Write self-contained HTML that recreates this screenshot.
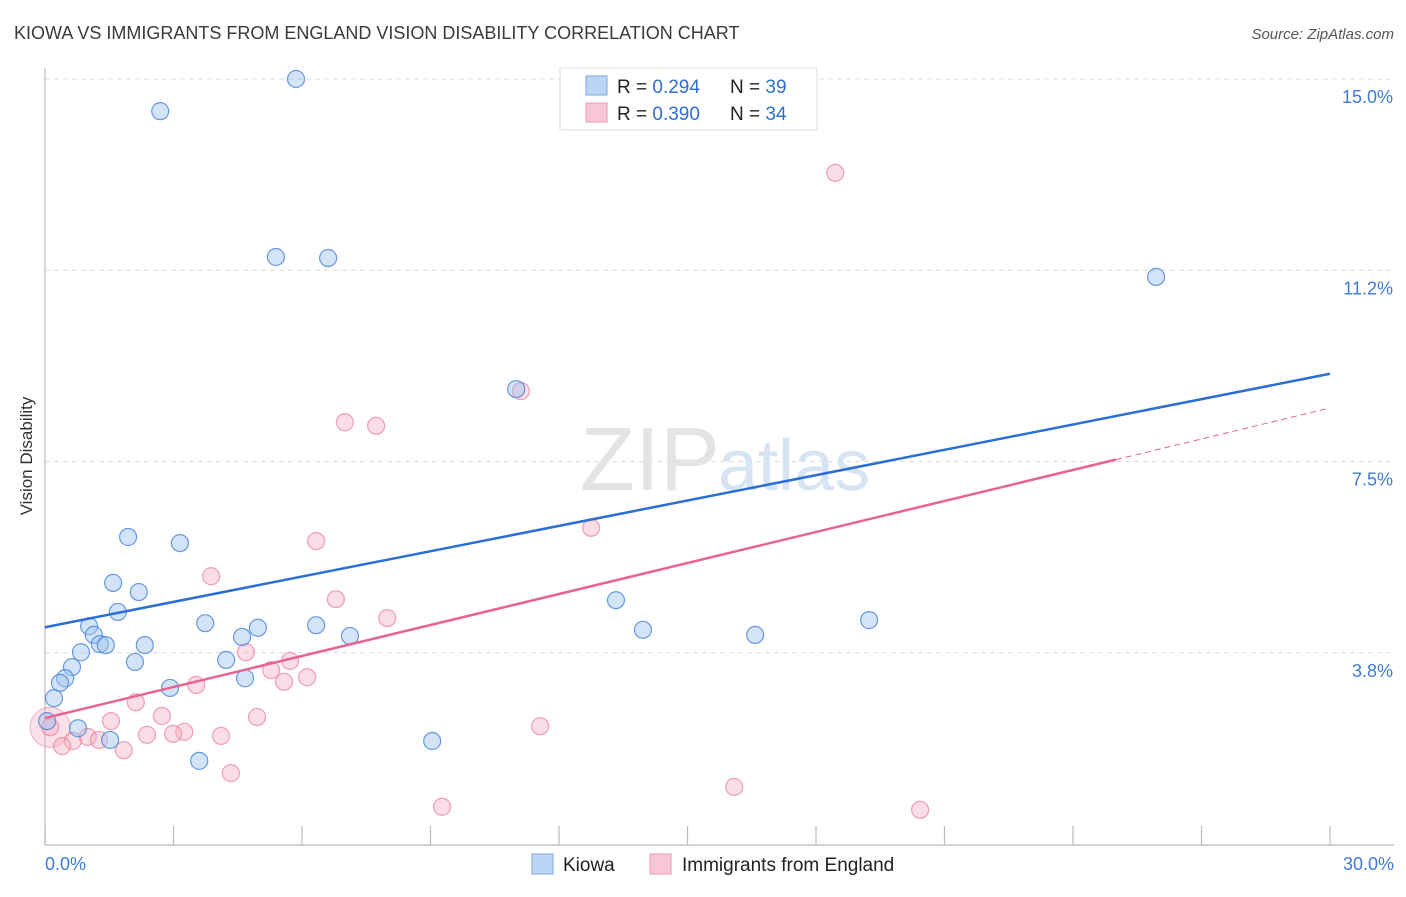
<!DOCTYPE html>
<html><head><meta charset="utf-8"><style>
body{margin:0;background:#fff;font-family:"Liberation Sans",sans-serif;}
svg text{font-family:"Liberation Sans",sans-serif;}
</style></head><body>
<svg id="chart" width="1406" height="892" viewBox="0 0 1406 892">
<text x="14" y="39" font-size="18" fill="#3a3a3a">KIOWA VS IMMIGRANTS FROM ENGLAND VISION DISABILITY CORRELATION CHART</text>
<text x="1394" y="39" font-size="15" fill="#555" font-style="italic" text-anchor="end">Source: ZipAtlas.com</text>
<text x="32" y="456" font-size="17" fill="#333" text-anchor="middle" transform="rotate(-90 32 456)">Vision Disability</text>
<g id="grid"></g>
<g id="yticks"></g>
<g id="xticks"></g>
<text x="720" y="490" font-size="90" fill="#e4e4e4" text-anchor="end" font-family="Liberation Serif">ZIP</text>
<text x="718" y="490" font-size="72" fill="#d6e4f4">atlas</text>
<line x1="45" y1="68" x2="45" y2="845" stroke="#bbb" stroke-width="1.2"/>
<line x1="45" y1="845" x2="1394" y2="845" stroke="#bbb" stroke-width="1.2"/>
<g id="points"></g>
<g id="trends"></g>
<g>
<rect x="560" y="68" width="257" height="62" fill="#fff" stroke="#ddd"/>
<rect x="586" y="76" width="21" height="19" fill="#bcd5f5" stroke="#7aa6e0"/>
<rect x="586" y="103" width="21" height="19" fill="#f9c8d6" stroke="#ec9ab2"/>
<text x="617" y="93" font-size="19" fill="#222">R = <tspan fill="#2f6fd0">0.294</tspan></text>
<text x="730" y="93" font-size="19" fill="#222">N = <tspan fill="#2f6fd0">39</tspan></text>
<text x="617" y="120" font-size="19" fill="#222">R = <tspan fill="#2f6fd0">0.390</tspan></text>
<text x="730" y="120" font-size="19" fill="#222">N = <tspan fill="#2f6fd0">34</tspan></text>
</g>
<text x="45" y="870" font-size="18" fill="#3d7bd6">0.0%</text>
<text x="1394" y="870" font-size="18" fill="#3d7bd6" text-anchor="end">30.0%</text>
<g>
<rect x="532" y="854" width="21" height="20" fill="#bcd5f5" stroke="#7aa6e0"/>
<text x="563" y="871" font-size="19" fill="#222">Kiowa</text>
<rect x="650" y="854" width="21" height="20" fill="#f9c8d6" stroke="#ec9ab2"/>
<text x="682" y="871" font-size="19" fill="#222">Immigrants from England</text>
</g>
</svg>
<script>
const kiowaX=[5.86,2.69,5.39,6.61,25.94,11.0,1.94,3.15,1.59,2.19,1.70,13.33,1.03,3.74,1.14,4.97,6.33,4.60,7.12,13.96,16.58,19.24,1.28,1.42,2.33,0.84,2.10,4.23,0.63,0.47,0.35,4.67,2.92,0.21,0.05,0.77,1.52,9.04,3.60];
const kiowaY=[15.0,14.37,11.51,11.49,11.12,8.92,6.02,5.90,5.12,4.94,4.55,4.78,4.27,4.33,4.10,4.24,4.29,4.06,4.08,4.20,4.10,4.39,3.92,3.90,3.90,3.76,3.57,3.61,3.47,3.25,3.16,3.25,3.06,2.86,2.41,2.27,2.04,2.02,1.63];
const engX=[18.45,11.11,7.00,7.73,12.75,6.33,3.88,6.79,7.99,4.69,5.72,5.28,6.12,5.58,3.53,2.12,2.73,4.95,1.54,0.12,11.56,3.25,2.99,2.38,1.00,4.11,1.26,0.65,0.40,1.84,4.34,16.09,9.27,20.43];
const engY=[13.16,8.88,8.27,8.20,6.20,5.94,5.25,4.80,4.43,3.76,3.59,3.41,3.27,3.18,3.12,2.78,2.51,2.49,2.41,2.29,2.31,2.20,2.16,2.14,2.10,2.12,2.04,2.02,1.92,1.84,1.39,1.12,0.73,0.67];
const yTicks=[3.75,7.5,11.25,15.0];
const yTickLabels=["3.8%","7.5%","11.2%","15.0%"];
const xTicks=[0,3,6,9,12,15,18,21,24,27,30];
const kiowaTrend=[4.25,9.22];
const engTrend=[2.47,8.55];
const engSolidEnd=25.0;
const NS="http://www.w3.org/2000/svg";
const sx=v=>45+v*(1285/30);
const sy=v=>844-v*51;
function mk(tag,parent,attrs){const e=document.createElementNS(NS,tag);for(const k in attrs)e.setAttribute(k,attrs[k]);parent.appendChild(e);return e;}
const grid=document.getElementById('grid'),yt=document.getElementById('yticks'),xt=document.getElementById('xticks');
yTicks.forEach((t,i)=>{
 const l=mk('line',grid,{x1:45,x2:1394,y1:sy(t),y2:sy(t),stroke:'#ddd','stroke-dasharray':'5,4'});
 
 
 const tx=mk('text',yt,{x:1393,y:sy(t)+24,'font-size':18,fill:'#3d7bd6','text-anchor':'end'});
 tx.textContent=yTickLabels[i];
 
 
});
xTicks.forEach(t=>{
 const l=mk('line',xt,{x1:sx(t),x2:sx(t),y1:826,y2:845,stroke:'#bbb','stroke-width':1.2});
 
 
});
const pts=document.getElementById('points');
const big=mk('circle',pts,{cx:sx(0.12),cy:sy(2.29),r:20,fill:'rgba(245,170,190,0.35)',stroke:'rgba(232,130,160,0.6)'});


engX.forEach((x,i)=>{
 const c=mk('circle',pts,{cx:sx(x),cy:sy(engY[i]),r:8.5,fill:'rgba(245,170,190,0.4)',stroke:'rgba(232,130,160,0.75)','stroke-width':1.2});
 
 
});
kiowaX.forEach((x,i)=>{
 const c=mk('circle',pts,{cx:sx(x),cy:sy(kiowaY[i]),r:8.5,fill:'rgba(160,196,240,0.45)',stroke:'rgba(70,130,215,0.8)','stroke-width':1.2});
 
 
});
const tr=document.getElementById('trends');
const kl=mk('line',tr,{x1:sx(0),y1:sy(kiowaTrend[0]),x2:sx(30),y2:sy(kiowaTrend[1]),stroke:'#2a6fd6','stroke-width':2.5});


const eAt=x=>engTrend[0]+(engTrend[1]-engTrend[0])*x/30;
const el=mk('line',tr,{x1:sx(0),y1:sy(engTrend[0]),x2:sx(engSolidEnd),y2:sy(eAt(engSolidEnd)),stroke:'#e8648e','stroke-width':2.5});


const ed=mk('line',tr,{x1:sx(engSolidEnd),y1:sy(eAt(engSolidEnd)),x2:sx(30),y2:sy(engTrend[1]),stroke:'#e8648e','stroke-width':1,'stroke-dasharray':'6,4'});


</script>
</body></html>
